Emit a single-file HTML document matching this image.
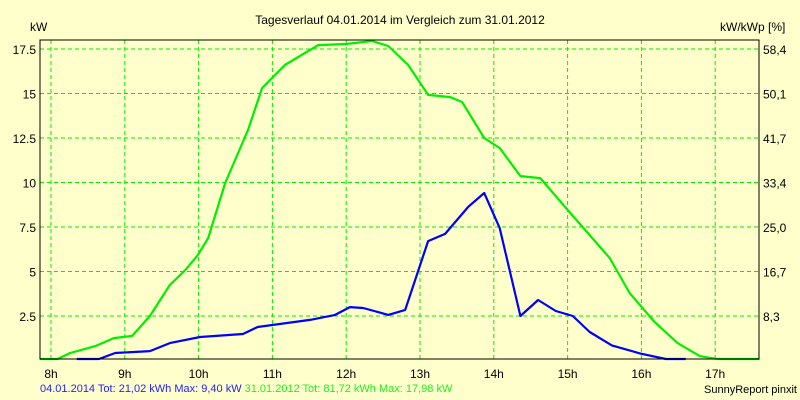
<!DOCTYPE html>
<html><head><meta charset="utf-8"><style>
body{margin:0;background:#ffffcc;}
svg{display:block;font-family:"Liberation Sans",sans-serif;font-size:12px;}
</style></head><body>
<svg width="800" height="400">
<rect width="800" height="400" fill="#ffffcc"/>
<text x="400" y="24" text-anchor="middle">Tagesverlauf 04.01.2014 im Vergleich zum 31.01.2012</text>
<text x="30" y="31">kW</text>
<text x="720" y="31">kW/kWp [%]</text>
<g id="grid"></g>
<g id="series"></g>
<rect x="40" y="40" width="719" height="319" fill="none" stroke="#000" stroke-width="1"/>
<g id="labels"></g>
<text x="40" y="392" font-size="11"><tspan fill="#2222ff">04.01.2014 Tot: 21,02 kWh Max: 9,40 kW </tspan><tspan fill="#22ee22">31.01.2012 Tot: 81,72 kWh Max: 17,98 kW</tspan></text>
<text x="797" y="393" text-anchor="end" font-size="11">SunnyReport pinxit</text>
</svg>
<script>
const xTicks=[8,9,10,11,12,13,14,15,16,17];
const yTicks=[2.5,5,7.5,10,12.5,15,17.5];
const yTickLabels=["2.5","5","7.5","10","12.5","15","17.5"];
const y2TickLabels=["8,3","16,7","25,0","33,4","41,7","50,1","58,4"];
const greenTimes=[7.85,8.09,8.26,8.6,8.85,9.1,9.34,9.61,9.82,9.99,10.13,10.36,10.67,10.86,11.17,11.62,12.0,12.35,12.57,12.84,13.11,13.41,13.57,13.87,14.08,14.36,14.63,15.0,15.57,15.84,16.18,16.49,16.79,17.0,17.1,17.6];
const greenValues=[0,0,0.42,0.81,1.26,1.38,2.5,4.24,5.08,5.93,6.88,9.97,12.95,15.31,16.6,17.72,17.78,17.95,17.67,16.6,14.92,14.8,14.52,12.5,11.94,10.36,10.25,8.46,5.76,3.79,2.16,0.98,0.25,0.1,0,0];
const blueTimes=[8.35,8.65,8.87,9.34,9.61,10.02,10.6,10.8,11.51,11.85,12.05,12.23,12.57,12.8,13.11,13.34,13.65,13.87,14.08,14.36,14.6,14.84,15.07,15.3,15.6,15.98,16.33,16.6];
const blueValues=[0,0,0.42,0.53,0.98,1.32,1.49,1.88,2.28,2.56,3.0,2.95,2.56,2.84,6.71,7.11,8.62,9.41,7.44,2.5,3.4,2.78,2.5,1.6,0.85,0.4,0,0];
const X=t=>51+(t-8)*73.8;
const Y=v=>360.5-v*44.5/2.5;
const NS="http://www.w3.org/2000/svg";
const grid=document.getElementById('grid'),ser=document.getElementById('series'),lab=document.getElementById('labels');
function mk(tag,attrs,parent){const e=document.createElementNS(NS,tag);for(const k in attrs)e.setAttribute(k,attrs[k]);parent.appendChild(e);return e;}
xTicks.forEach(t=>{
 const l=mk('line',{x1:X(t),x2:X(t),y1:40,y2:359,stroke:'#00ee00','stroke-dasharray':'4,3'},grid);
 
 
 const tx=mk('text',{x:X(t),y:378,'text-anchor':'middle'},lab);tx.textContent=t+'h';
 
 
});
yTicks.forEach((v,i)=>{
 const l=mk('line',{x1:40,x2:759,y1:Y(v),y2:Y(v),stroke:'#00ee00','stroke-dasharray':'4,3'},grid);
 
 
 const a=mk('text',{x:36,y:Y(v)+5,'text-anchor':'end'},lab);a.textContent=yTickLabels[i];
 
 
 const b=mk('text',{x:763,y:Y(v)+5},lab);b.textContent=y2TickLabels[i];
 
 
});
function line(ts,vs,color,name){
 const p=ts.map((t,i)=>Math.max(40,X(t)).toFixed(1)+','+Math.min(359,Y(vs[i])).toFixed(1)).join(' ');
 const pl=mk('polyline',{points:p,fill:'none',stroke:color,'stroke-width':2.2,'stroke-linejoin':'round'},ser);
 
 
}
line(greenTimes,greenValues,'#00ee00','series-2012-line');
line(blueTimes,blueValues,'#0000ff','series-2014-line');
</script>
</body></html>
